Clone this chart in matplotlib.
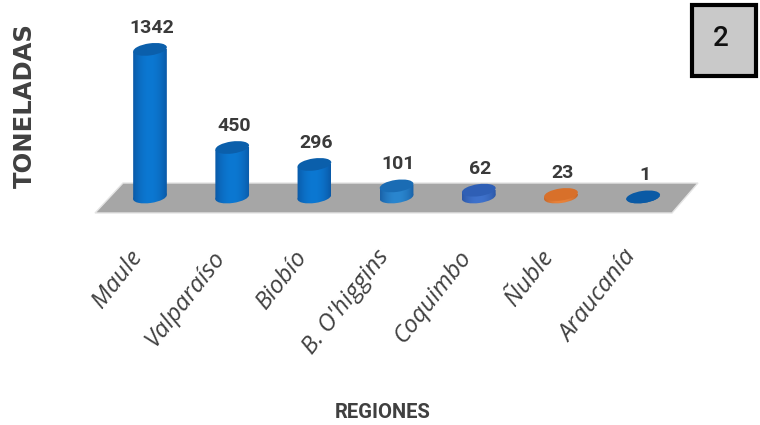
import numpy as np
import matplotlib
matplotlib.use("Agg")
import matplotlib.pyplot as plt
from matplotlib.colors import to_rgb
from matplotlib.patches import Ellipse, Polygon, Rectangle
from matplotlib.transforms import IdentityTransform, ScaledTranslation

regions = ["Maule", "Valparaíso", "Biobío", "B. O'higgins", "Coquimbo", "Ñuble", "Araucanía"]
tons = [1342, 450, 296, 101, 62, 23, 1]
top_colors = ["#0b5fab", "#0b5fab", "#0b5fab", "#1a6cb4", "#2f5fb5", "#d8702a", "#0a5aa5"]
side_colors = ["#0c78d2", "#0c78d2", "#0c78d2", "#2a86cf", "#3f72cc", "#e8823a", "#0a5aa5"]
edge_colors = ["#0a5aa8", "#0a5aa8", "#0a5aa8", "#1a62a8", "#2c58a8", "#c8682a", "#0a5aa5"]

W, H = 760, 425
BASE_Y = 197       # pixel row of the zero line
PX_PER_TON = 0.11
SPACING = 82.2
FIRST_X = 150
AX_BOTTOM = 222
CYL_W, CYL_H, TILT = 34, 12, 8

plt.rcParams["font.family"] = ["Roboto", "DejaVu Sans"]
fig = plt.figure(figsize=(W / 100, H / 100), dpi=100)
ax = fig.add_axes([0, (H - AX_BOTTOM) / H, 1, AX_BOTTOM / H])
ax.set_xlim(-FIRST_X / SPACING, (W - FIRST_X) / SPACING)
ax.set_ylim(-(AX_BOTTOM - BASE_Y) / PX_PER_TON, BASE_Y / PX_PER_TON)
ax.patch.set_alpha(0)
for s in ax.spines.values():
    s.set_visible(False)
ax.set_yticks([])


def px(x, y):
    return (x, H - y)


# grey floor
floor = [px(95, 213), px(123, 183), px(698, 183), px(672, 213)]
fig.add_artist(Polygon(floor, closed=True, fc="#a6a6a6", ec="#e4e4e4", lw=1, transform=IdentityTransform(), zorder=0))

dx = CYL_W / 2 * np.cos(np.radians(TILT))
dy = CYL_W / 2 * np.sin(np.radians(TILT))
half_w = CYL_W / 2 / SPACING
below = (CYL_H / 2 + 3) / PX_PER_TON

for i, v in enumerate(tons):
    bx, by = ax.transData.transform((i, 0))
    tx, ty = ax.transData.transform((i, v))
    # side of the cylinder, dark at the edges
    t = np.linspace(-1, 1, 40)[None, :, None]
    c0, c1 = np.array(to_rgb(edge_colors[i])), np.array(to_rgb(side_colors[i]))
    grad = c1 + (c0 - c1) * np.abs(t) ** 2
    extent = [i - half_w, i + half_w, -below, v]
    body = Polygon([(bx - dx, by - dy), (bx + dx, by + dy), (tx + dx, ty + dy), (tx - dx, ty - dy)],
                   closed=True, transform=IdentityTransform())
    bottom = Ellipse((bx, by), CYL_W, CYL_H, angle=TILT, transform=IdentityTransform())
    for clip in (body, bottom):
        im = ax.imshow(grad, extent=extent, aspect="auto", zorder=3)
        im.set_clip_path(clip)
    ax.add_patch(Ellipse((tx, ty), CYL_W, CYL_H, angle=TILT, fc=top_colors[i], ec="none",
                         transform=IdentityTransform(), zorder=4))
    ax.annotate(str(v), (i, v), xytext=(1.2, 9), textcoords="offset points", ha="center", va="bottom",
                fontsize=14, fontweight="bold", color="#3a3a3a", zorder=5)

ax.set_xlim(-FIRST_X / SPACING, (W - FIRST_X) / SPACING)
ax.set_ylim(-(AX_BOTTOM - BASE_Y) / PX_PER_TON, BASE_Y / PX_PER_TON)

ax.set_xticks(range(len(regions)))
ax.set_xticklabels(regions, rotation=52, ha="right", va="top", rotation_mode="anchor",
                   fontsize=17.5, fontstyle="italic", family=["Open Sans", "DejaVu Sans"], color="#404040")
ax.tick_params(axis="x", length=0, pad=17)
shift = ScaledTranslation(-0.21, 0.0, fig.dpi_scale_trans)
for label in ax.get_xticklabels():
    label.set_transform(label.get_transform() + shift)

fig.text(383 / W, 1 - 412 / H, "REGIONES", ha="center", va="center", fontsize=14.5, fontweight="bold",
         color="#404040")
fig.text(25 / W, 1 - 106 / H, "TONELADAS", ha="center", va="center", rotation=90, fontsize=17.5,
         fontweight="bold", family=["DejaVu Sans"], color="#404040")

# numbered box top right
fig.add_artist(Rectangle(px(692, 76), 64, 71, fc="#c9c9c9", ec="black", lw=3, transform=IdentityTransform()))
fig.text(721 / W, 1 - 38 / H, "2", ha="center", va="center", fontsize=20, fontweight="medium", color="#111111")

fig.savefig("out.png", dpi=100)
